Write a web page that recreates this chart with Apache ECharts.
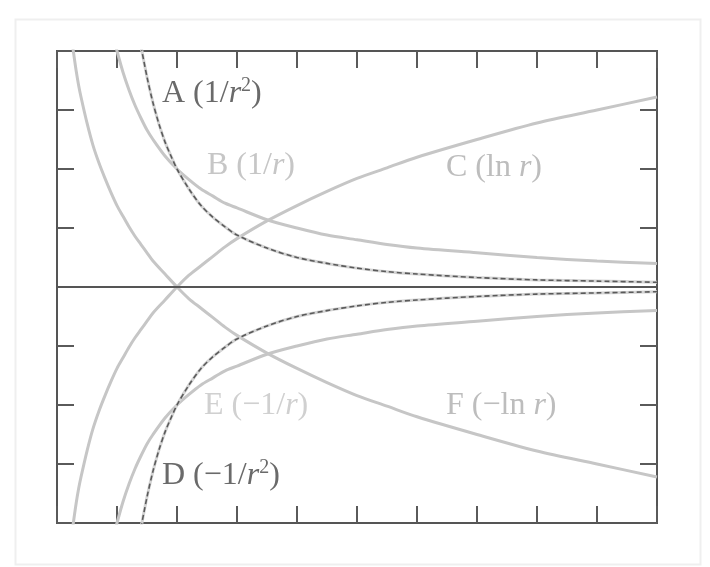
<!DOCTYPE html>
<html>
<head>
<meta charset="utf-8">
<script src="https://cdn.jsdelivr.net/npm/echarts/dist/echarts.min.js"></script>
<style>
  html, body { margin: 0; padding: 0; background: #ffffff; }
  #chart { width: 710px; height: 567px; }
</style>
</head>
<body>
<div id="chart"></div>
<script>
// Sample radii and curve values
const rLog = [0.12, 0.14, 0.16, 0.18, 0.2, 0.25, 0.3, 0.35, 0.4, 0.45, 0.5, 0.55, 0.6, 0.65, 0.7, 0.75, 0.8, 0.9, 1.0, 1.1, 1.2, 1.3, 1.4, 1.5, 1.75, 2.0, 2.25, 2.5, 2.75, 3.0, 3.5, 4.0, 4.5, 5.0];
const lnValues = [-2.12, -1.97, -1.83, -1.71, -1.61, -1.39, -1.20, -1.05, -0.92, -0.80, -0.69, -0.60, -0.51, -0.43, -0.36, -0.29, -0.22, -0.11, 0.00, 0.10, 0.18, 0.26, 0.34, 0.41, 0.56, 0.69, 0.81, 0.92, 1.01, 1.10, 1.25, 1.39, 1.50, 1.61];
const negLnValues = [2.12, 1.97, 1.83, 1.71, 1.61, 1.39, 1.20, 1.05, 0.92, 0.80, 0.69, 0.60, 0.51, 0.43, 0.36, 0.29, 0.22, 0.11, 0.00, -0.10, -0.18, -0.26, -0.34, -0.41, -0.56, -0.69, -0.81, -0.92, -1.01, -1.10, -1.25, -1.39, -1.50, -1.61];

const rInv = [0.48, 0.5, 0.55, 0.6, 0.65, 0.7, 0.75, 0.8, 0.9, 1.0, 1.1, 1.2, 1.3, 1.4, 1.5, 1.75, 2.0, 2.25, 2.5, 2.75, 3.0, 3.5, 4.0, 4.5, 5.0];
const invValues = [2.08, 2.00, 1.82, 1.67, 1.54, 1.43, 1.33, 1.25, 1.11, 1.00, 0.91, 0.83, 0.77, 0.71, 0.67, 0.57, 0.50, 0.44, 0.40, 0.36, 0.33, 0.29, 0.25, 0.22, 0.20];
const negInvValues = [-2.08, -2.00, -1.82, -1.67, -1.54, -1.43, -1.33, -1.25, -1.11, -1.00, -0.91, -0.83, -0.77, -0.71, -0.67, -0.57, -0.50, -0.44, -0.40, -0.36, -0.33, -0.29, -0.25, -0.22, -0.20];

const rInvSq = [0.7, 0.75, 0.8, 0.85, 0.9, 0.95, 1.0, 1.1, 1.2, 1.3, 1.4, 1.5, 1.75, 2.0, 2.25, 2.5, 2.75, 3.0, 3.5, 4.0, 4.5, 5.0];
const invSqValues = [2.04, 1.78, 1.56, 1.38, 1.23, 1.11, 1.00, 0.83, 0.69, 0.59, 0.51, 0.44, 0.33, 0.25, 0.20, 0.16, 0.13, 0.11, 0.08, 0.06, 0.05, 0.04];
const negInvSqValues = [-2.04, -1.78, -1.56, -1.38, -1.23, -1.11, -1.00, -0.83, -0.69, -0.59, -0.51, -0.44, -0.33, -0.25, -0.20, -0.16, -0.13, -0.11, -0.08, -0.06, -0.05, -0.04];

const zeroLine = [[0, 0], [5, 0]];

const pairs = (xs, ys) => xs.map((x, i) => [x, ys[i]]);

const serif = '"Liberation Serif", "DejaVu Serif", serif';
const lightGrey = '#c6c6c6';
const darkGrey = '#5a5a5a';

function solidCurve(name, xs, ys) {
  return {
    name, type: 'line', data: pairs(xs, ys), showSymbol: false, smooth: 0.3,
    clip: true, silent: true,
    lineStyle: { color: lightGrey, width: 3 }
  };
}
function dashedCurve(name, xs, ys) {
  return [
    {
      name: name + '-base', type: 'line', data: pairs(xs, ys), showSymbol: false, smooth: 0.3,
      clip: true, silent: true,
      lineStyle: { color: '#d4d4d4', width: 3 }
    },
    {
      name, type: 'line', data: pairs(xs, ys), showSymbol: false, smooth: 0.3,
      clip: true, silent: true,
      lineStyle: { color: darkGrey, width: 1.6, type: [5, 3] }
    }
  ];
}

const tickStyle = { show: true, inside: true, length: 17, lineStyle: { color: darkGrey, width: 2 } };
const tickAxis = (pos) => ({
  type: 'value', min: 0, max: 5, interval: 0.5, position: pos,
  axisLine: { show: false, onZero: false }, axisLabel: { show: false }, splitLine: { show: false },
  axisTick: tickStyle
});
const yTickAxis = (pos) => ({
  type: 'value', min: -2, max: 2, interval: 0.5, position: pos,
  axisLine: { show: false, onZero: false }, axisLabel: { show: false }, splitLine: { show: false },
  axisTick: tickStyle
});

function label(text, x, y, color) {
  return {
    type: 'text', left: x, top: y, silent: true,
    style: {
      text, fill: color, font: '32px ' + serif,
      rich: {
        i: { fontFamily: serif, fontSize: 32, fontStyle: 'italic', fill: color },
        s: { fontFamily: serif, fontSize: 20, fill: color, verticalAlign: 'top', padding: [0, 0, 16, 0] },
        n: { fontFamily: serif, fontSize: 32, fill: color }
      }
    }
  };
}

const chart = echarts.init(document.getElementById('chart'), null, { renderer: 'canvas' });
chart.setOption({
  backgroundColor: '#ffffff',
  animation: false,
  grid: { left: 57, top: 51, right: 53, bottom: 44, show: true, borderColor: '#555555', borderWidth: 2, backgroundColor: 'transparent' },
  xAxis: [tickAxis('bottom'), tickAxis('top')],
  yAxis: [yTickAxis('left'), yTickAxis('right')],
  series: [
    solidCurve('C', rLog, lnValues),
    solidCurve('F', rLog, negLnValues),
    solidCurve('B', rInv, invValues),
    solidCurve('E', rInv, negInvValues),
    ...dashedCurve('A', rInvSq, invSqValues),
    ...dashedCurve('D', rInvSq, negInvSqValues),
    {
      name: 'zero', type: 'line', data: zeroLine, showSymbol: false, silent: true,
      lineStyle: { color: '#555555', width: 2 }
    }
  ],
  graphic: [
    { type: 'rect', left: 13, top: 17, silent: true, shape: { width: 685, height: 545 },
      style: { fill: 'none', stroke: '#efefef', lineWidth: 2 } },
    label('{n|A (1/}{i|r}{s|2}{n|)}', 162, 76, '#6a6a6a'),
    label('{n|B (1/}{i|r}{n|)}', 207, 150, lightGrey),
    label('{n|C (ln }{i|r}{n|)}', 446, 152, '#bdbdbd'),
    label('{n|E (\u22121/}{i|r}{n|)}', 204, 390, '#d0d0d0'),
    label('{n|F (\u2212ln }{i|r}{n|)}', 446, 390, '#bdbdbd'),
    label('{n|D (\u22121/}{i|r}{s|2}{n|)}', 162, 458, '#6a6a6a')
  ]
});
</script>
</body>
</html>
